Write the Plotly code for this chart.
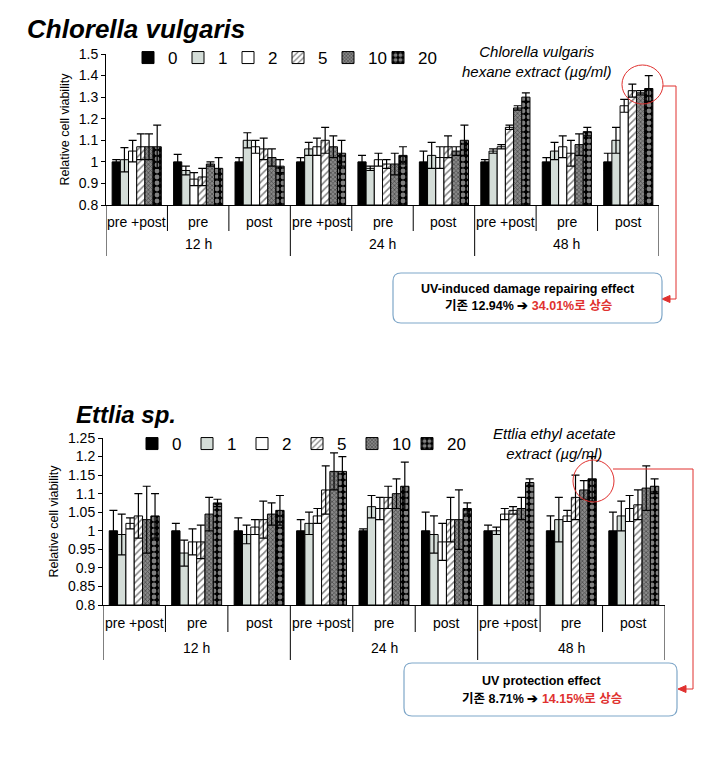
import plotly.graph_objects as go

W, H = 717, 757

subgroups = ["pre +post", "pre", "post"] * 3
time_labels = ["12 h", "24 h", "48 h"]
doses = ["0", "1", "2", "5", "10", "20"]

# Chlorella vulgaris hexane extract (order: 12h pre+post, pre, post, 24h ..., 48h ...)
chl_0 = [1.00, 1.00, 1.00, 1.00, 1.00, 1.00, 1.00, 1.00, 1.00]
chl_1 = [1.01, 0.96, 1.10, 1.06, 0.97, 1.03, 1.05, 1.05, 1.10]
chl_2 = [1.05, 0.92, 1.07, 1.07, 1.01, 1.02, 1.07, 1.07, 1.26]
chl_5 = [1.07, 0.93, 1.06, 1.10, 0.99, 1.07, 1.16, 1.04, 1.33]
chl_10 = [1.07, 0.99, 1.02, 1.07, 0.99, 1.05, 1.25, 1.08, 1.32]
chl_20 = [1.07, 0.97, 0.98, 1.04, 1.03, 1.10, 1.30, 1.14, 1.34]
chl_0_err = [0.01, 0.035, 0.02, 0.02, 0.03, 0.05, 0.01, 0.02, 0.04]
chl_1_err = [0.056, 0.02, 0.035, 0.03, 0.01, 0.06, 0.01, 0.04, 0.06]
chl_2_err = [0.05, 0.03, 0.03, 0.04, 0.03, 0.05, 0.01, 0.05, 0.03]
chl_5_err = [0.06, 0.04, 0.05, 0.06, 0.02, 0.05, 0.01, 0.06, 0.03]
chl_10_err = [0.06, 0.01, 0.04, 0.05, 0.05, 0.02, 0.01, 0.05, 0.01]
chl_20_err = [0.10, 0.05, 0.03, 0.06, 0.04, 0.07, 0.02, 0.02, 0.06]

# Ettlia sp. ethyl acetate extract
ett_0 = [1.00, 1.00, 1.00, 1.00, 1.00, 1.00, 1.00, 1.00, 1.00]
ett_1 = [0.99, 0.94, 0.99, 1.02, 1.065, 0.99, 1.00, 1.03, 1.04]
ett_2 = [1.02, 0.97, 1.01, 1.04, 1.06, 0.97, 1.045, 1.04, 1.06]
ett_5 = [1.04, 0.97, 1.03, 1.11, 1.09, 1.03, 1.055, 1.09, 1.07]
ett_10 = [1.03, 1.045, 1.045, 1.16, 1.10, 1.03, 1.06, 1.11, 1.115]
ett_20 = [1.04, 1.075, 1.055, 1.16, 1.12, 1.06, 1.13, 1.14, 1.12]
ett_0_err = [0.055, 0.02, 0.035, 0.03, 0.005, 0.05, 0.015, 0.04, 0.05]
ett_1_err = [0.055, 0.035, 0.025, 0.03, 0.03, 0.05, 0.01, 0.06, 0.04]
ett_2_err = [0.015, 0.035, 0.02, 0.02, 0.03, 0.05, 0.015, 0.015, 0.035]
ett_5_err = [0.06, 0.045, 0.05, 0.065, 0.03, 0.06, 0.01, 0.06, 0.04]
ett_10_err = [0.09, 0.045, 0.03, 0.05, 0.04, 0.08, 0.03, 0.025, 0.06]
ett_20_err = [0.06, 0.01, 0.04, 0.04, 0.065, 0.015, 0.01, 0.06, 0.02]

chl_vals = [chl_0, chl_1, chl_2, chl_5, chl_10, chl_20]
chl_errs = [chl_0_err, chl_1_err, chl_2_err, chl_5_err, chl_10_err, chl_20_err]
ett_vals = [ett_0, ett_1, ett_2, ett_5, ett_10, ett_20]
ett_errs = [ett_0_err, ett_1_err, ett_2_err, ett_5_err, ett_10_err, ett_20_err]

FONT = "Liberation Sans, Arial, Noto Sans CJK KR, sans-serif"
BASE = 0.8

def px(x):
    return x / W

def py(y):
    return 1 - y / H

styles = [
    dict(color="black", pattern=dict(shape="")),
    dict(color="#d4ddd8", pattern=dict(shape="")),
    dict(color="white", pattern=dict(shape="")),
    dict(color="white", pattern=dict(shape="/", fgcolor="black", bgcolor="white", size=5, solidity=0.3)),
    dict(color="#5a5a5a", pattern=dict(shape="x", fgcolor="#111111", bgcolor="#888888", size=3, solidity=0.45)),
    dict(color="black", pattern=dict(shape=".", fgcolor="white", bgcolor="black", size=6, solidity=0.5)),
]

xpos = list(range(len(subgroups)))

fig = go.Figure()

for vals, errs, xa, ya, leg in [
        (chl_vals, chl_errs, "x", "y", "legend"),
        (ett_vals, ett_errs, "x2", "y2", "legend2")]:
    for i, d in enumerate(doses):
        st = styles[i]
        extra = dict(legendwidth=30) if i == len(doses) - 1 else {}
        fig.add_trace(go.Bar(
            x=xpos, y=[v - BASE for v in vals[i]], base=BASE,
            name=d, xaxis=xa, yaxis=ya, legend=leg,
            marker=dict(color=st["color"], pattern=st["pattern"],
                        line=dict(color="black", width=1)),
            error_y=dict(type="data", array=errs[i], visible=True,
                         color="black", thickness=1.2, width=4),
            **extra,
        ))

axis_common = dict(showgrid=False, zeroline=False, automargin=False)

fig.update_layout(
    width=W, height=H,
    margin=dict(l=0, r=0, t=0, b=0, autoexpand=False),
    paper_bgcolor="white", plot_bgcolor="white",
    barmode="group", bargap=0.2, bargroupgap=0,
    font=dict(family=FONT, color="black"),
    xaxis=dict(domain=[px(106), px(659)], range=[-0.5, 8.5], anchor="y",
               showticklabels=False, ticks="", showline=True, linecolor="black",
               linewidth=1, **axis_common),
    yaxis=dict(domain=[py(205), py(54)], range=[0.8, 1.5], anchor="x",
               dtick=0.1, tick0=0.8, ticks="outside", ticklen=4, tickcolor="black",
               showline=True, linecolor="black", linewidth=1,
               tickfont=dict(size=14), title=dict(text="Relative cell viability", font=dict(size=12.5), standoff=6),
               **axis_common),
    xaxis2=dict(domain=[px(103), px(665)], range=[-0.5, 8.5], anchor="y2",
                showticklabels=False, ticks="", showline=True, linecolor="black",
                linewidth=1, **axis_common),
    yaxis2=dict(domain=[py(605), py(438)], range=[0.8, 1.25], anchor="x2",
                dtick=0.05, tick0=0.8, ticks="outside", ticklen=4, tickcolor="black",
                showline=True, linecolor="black", linewidth=1,
                tickfont=dict(size=14), title=dict(text="Relative cell viability", font=dict(size=12.5), standoff=6),
                **axis_common),
    legend=dict(orientation="h", x=px(128), y=py(40), xanchor="left", yanchor="top",
                font=dict(size=17), itemwidth=30, entrywidth=5, entrywidthmode="pixels",
                bgcolor="rgba(0,0,0,0)", traceorder="normal"),
    legend2=dict(orientation="h", x=px(132), y=py(426), xanchor="left", yanchor="top",
                 font=dict(size=17), itemwidth=30, entrywidth=10, entrywidthmode="pixels",
                 bgcolor="rgba(0,0,0,0)", traceorder="normal"),
)

shapes = []
annotations = []

def ann(text, x, y, size, xref="paper", xanchor="center"):
    return dict(text=text, xref=xref, yref="paper", x=x, y=y, showarrow=False,
                font=dict(size=size), xanchor=xanchor, yanchor="middle")

def add_cat_axis(xref, y_axis, y_short, y_long, y_sub, y_time):
    for b in range(10):
        xb = b - 0.5
        long = (b % 3 == 0)
        shapes.append(dict(type="line", xref=xref, yref="paper", x0=xb, x1=xb,
                           y0=py(y_axis), y1=py(y_long if long else y_short),
                           line=dict(color="black", width=1)))
    for i, lab in enumerate(subgroups):
        annotations.append(ann(lab, i, py(y_sub), 14, xref=xref))
    for j, lab in enumerate(time_labels):
        annotations.append(ann(lab, 3 * j + 1, py(y_time), 14, xref=xref))

add_cat_axis("x", 205, 231, 256, 222, 244)
add_cat_axis("x2", 605, 632, 660, 623, 648)

# Titles
annotations.append(ann("<b><i>Chlorella vulgaris</i></b>", px(25), py(29), 26, xanchor="left"))
annotations.append(ann("<b><i>Ettlia sp.</i></b>", px(74), py(414), 24, xanchor="left"))
annotations.append(ann("<i>Chlorella vulgaris</i><br><i>hexane extract (µg/ml)</i>", px(537), py(62), 15))
annotations.append(ann("<i>Ettlia ethyl acetate</i><br><i>extract (µg/ml)</i>", px(554), py(443), 15))

# Red circles and connectors
red = "#e0312f"
shapes.append(dict(type="circle", xref="paper", yref="paper", x0=px(622), x1=px(663),
                   y0=py(104), y1=py(65), line=dict(color=red, width=1)))
shapes.append(dict(type="path", xref="paper", yref="paper",
                   path=f"M {px(663)},{py(86)} L {px(676)},{py(86)} L {px(676)},{py(299)} L {px(668)},{py(299)}",
                   line=dict(color=red, width=1)))
shapes.append(dict(type="circle", xref="paper", yref="paper", x0=px(573), x1=px(614),
                   y0=py(502), y1=py(460), line=dict(color=red, width=1)))
shapes.append(dict(type="path", xref="paper", yref="paper",
                   path=f"M {px(613)},{py(469)} L {px(693)},{py(469)} L {px(693)},{py(689)} L {px(684)},{py(689)}",
                   line=dict(color=red, width=1)))
# arrowheads
shapes.append(dict(type="path", xref="paper", yref="paper",
                   path=f"M {px(662)},{py(299)} L {px(670)},{py(295.5)} L {px(670)},{py(302.5)} Z",
                   fillcolor=red, line=dict(color=red, width=1)))
shapes.append(dict(type="path", xref="paper", yref="paper",
                   path=f"M {px(678)},{py(689)} L {px(686)},{py(685.5)} L {px(686)},{py(692.5)} Z",
                   fillcolor=red, line=dict(color=red, width=1)))

# Rounded boxes
def rounded_box(x0, y0, x1, y1, r=8):
    p = (f"M {px(x0 + r)},{py(y0)} L {px(x1 - r)},{py(y0)} "
         f"Q {px(x1)},{py(y0)} {px(x1)},{py(y0 + r)} L {px(x1)},{py(y1 - r)} "
         f"Q {px(x1)},{py(y1)} {px(x1 - r)},{py(y1)} L {px(x0 + r)},{py(y1)} "
         f"Q {px(x0)},{py(y1)} {px(x0)},{py(y1 - r)} L {px(x0)},{py(y0 + r)} "
         f"Q {px(x0)},{py(y0)} {px(x0 + r)},{py(y0)} Z")
    return dict(type="path", xref="paper", yref="paper", path=p,
                line=dict(color="#7fa7c9", width=1.2), fillcolor="white")

shapes.append(rounded_box(393, 273, 662, 323))
shapes.append(rounded_box(404, 663, 677, 716))

annotations.append(ann("<b>UV-induced damage repairing effect</b>", px(528), py(289), 12.5))
annotations.append(ann("<b>기존 12.94% ➔ <span style='color:#e0312f'>34.01%로 상승</span></b>", px(528), py(306), 12.5))
annotations.append(ann("<b>UV protection effect</b>", px(542), py(681), 12.5))
annotations.append(ann("<b>기존 8.71% ➔ <span style='color:#e0312f'>14.15%로 상승</span></b>", px(542), py(698), 12.5))

fig.update_layout(shapes=shapes, annotations=annotations)

fig.write_html("out.html", config={"displayModeBar": False},
               post_script="document.body.style.margin='0px';document.body.style.overflow='hidden';")
